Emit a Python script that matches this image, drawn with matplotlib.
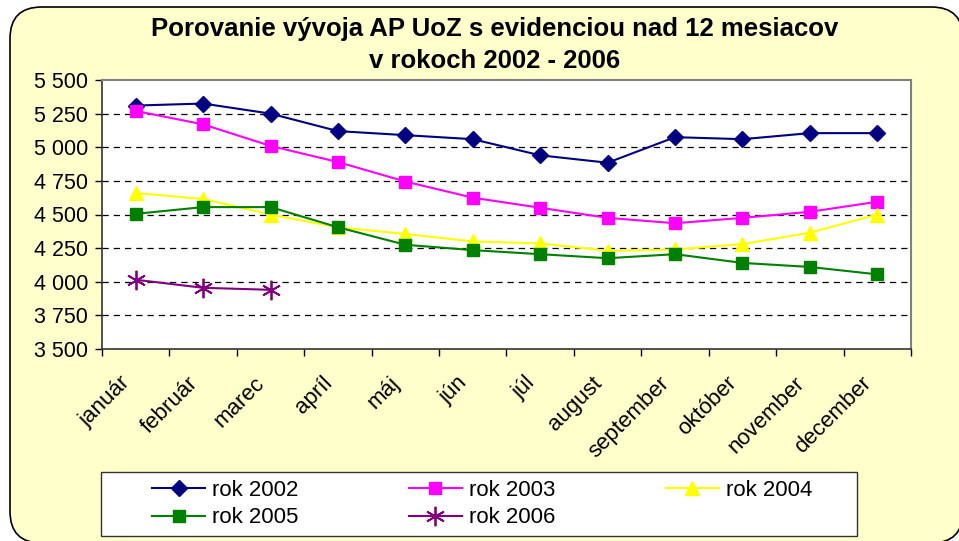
import matplotlib
matplotlib.use("Agg")
import matplotlib.pyplot as plt
from matplotlib.patches import FancyBboxPatch, Rectangle
import matplotlib.transforms as mtransforms
import numpy as np

plt.rcParams['font.family'] = ['Liberation Sans', 'DejaVu Sans']

months = ["január", "február", "marec", "apríl", "máj", "jún", "júl",
          "august", "september", "október", "november", "december"]
rok2002 = [5310, 5325, 5250, 5120, 5090, 5060, 4940, 4885, 5075, 5060, 5105, 5105]
rok2003 = [5270, 5170, 5010, 4890, 4745, 4625, 4550, 4475, 4435, 4475, 4520, 4595]
rok2004 = [4660, 4615, 4500, 4405, 4355, 4300, 4285, 4230, 4240, 4280, 4365, 4500]
rok2005 = [4505, 4555, 4555, 4405, 4275, 4235, 4205, 4175, 4205, 4140, 4110, 4055]
rok2006 = [4015, 3955, 3940]
yticks = [3500, 3750, 4000, 4250, 4500, 4750, 5000, 5250, 5500]
ytick_labels = ["3 500", "3 750", "4 000", "4 250", "4 500", "4 750", "5 000", "5 250", "5 500"]
title = "Porovanie vývoja AP UoZ s evidenciou nad 12 mesiacov\nv rokoch 2002 - 2006"

W, H = 959, 541
fig = plt.figure(figsize=(W / 100, H / 100), dpi=100)
fig.patch.set_facecolor("white")

# rounded chart area background
bx0, by0, bx1, by1 = 10, 7, 963, 543  # pixels, y from top
bg = FancyBboxPatch((bx0 / W, 1 - by1 / H), (bx1 - bx0) / W, (by1 - by0) / H,
                    boxstyle="round,pad=0,rounding_size=0.033",
                    transform=fig.transFigure, facecolor="#FFFFCC",
                    edgecolor="black", linewidth=1.2, zorder=-10,
                    mutation_aspect=W / H)
fig.patches.append(bg)

ax = fig.add_axes([102 / W, 1 - 349 / H, (911 - 102) / W, (349 - 80) / H])
ax.set_facecolor("white")

x = np.arange(len(months))
l1, = ax.plot(x, rok2002, color="#000080", marker="D", markersize=8, lw=1.5, label="rok 2002")
l2, = ax.plot(x, rok2003, color="#FF00FF", marker="s", markersize=9, lw=1.5, label="rok 2003")
l3, = ax.plot(x, rok2004, color="#FFFF00", marker="^", markersize=10, lw=1.5, label="rok 2004")
l4, = ax.plot(x, rok2005, color="#008000", marker="s", markersize=8, lw=1.5, label="rok 2005")
l5, = ax.plot(np.arange(len(rok2006)), rok2006, color="#800080", marker=(6, 2, 0),
              markersize=14, markeredgewidth=1.3, lw=1.5, label="rok 2006")

ax.set_xlim(-0.5, len(months) - 0.5)
ax.set_ylim(3500, 5500)
ax.set_yticks(yticks)
ax.set_yticklabels(ytick_labels, fontsize=15.5)
ax.tick_params(axis="y", direction="out", length=5, width=1, pad=5)

ax.set_xticks(x)
ax.set_xticklabels(months, fontsize=16, rotation=45, ha="right", va="top",
                   rotation_mode="anchor")
ax.tick_params(axis="x", which="major", length=0, pad=17)
shift = mtransforms.ScaledTranslation(-16 / 100, 0, fig.dpi_scale_trans)
for lab in ax.get_xticklabels():
    lab.set_transform(lab.get_transform() + shift)
ax.set_xticks(np.arange(-0.5, len(months)), minor=True)
ax.tick_params(axis="x", which="minor", direction="out", length=5, width=1)

for v in yticks[1:-1]:
    ax.axhline(v, color="black", lw=0.9, ls=(0, (5, 4)), zorder=0)

for s in ["top", "right"]:
    ax.spines[s].set_color("#808080")
    ax.spines[s].set_linewidth(1.5)
for s in ["left", "bottom"]:
    ax.spines[s].set_color("#333333")
    ax.spines[s].set_linewidth(1.2)

fig.text(495 / W, 1 - 45 / H, title, ha="center", va="center", fontsize=18.5,
         fontweight="bold", linespacing=1.4)

# legend frame
fig.patches.append(Rectangle((101 / W, 1 - 536 / H), (857 - 101) / W, (536 - 472) / H,
                             transform=fig.transFigure, facecolor="white",
                             edgecolor="#333333", linewidth=1.0, zorder=-5))
handles = [l1, l4, l2, l5, l3]
leg = fig.legend(handles, [h.get_label() for h in handles], ncol=3,
                 loc="center left",
                 bbox_to_anchor=(152 / W, 1 - 504 / H, (812 - 152) / W, 0),
                 mode="expand", fontsize=16, frameon=False,
                 handlelength=2.4, handletextpad=0.3, borderaxespad=0,
                 columnspacing=1.5, labelspacing=0.3, borderpad=0)

fig.savefig("out.png", dpi=100, facecolor=fig.get_facecolor())
